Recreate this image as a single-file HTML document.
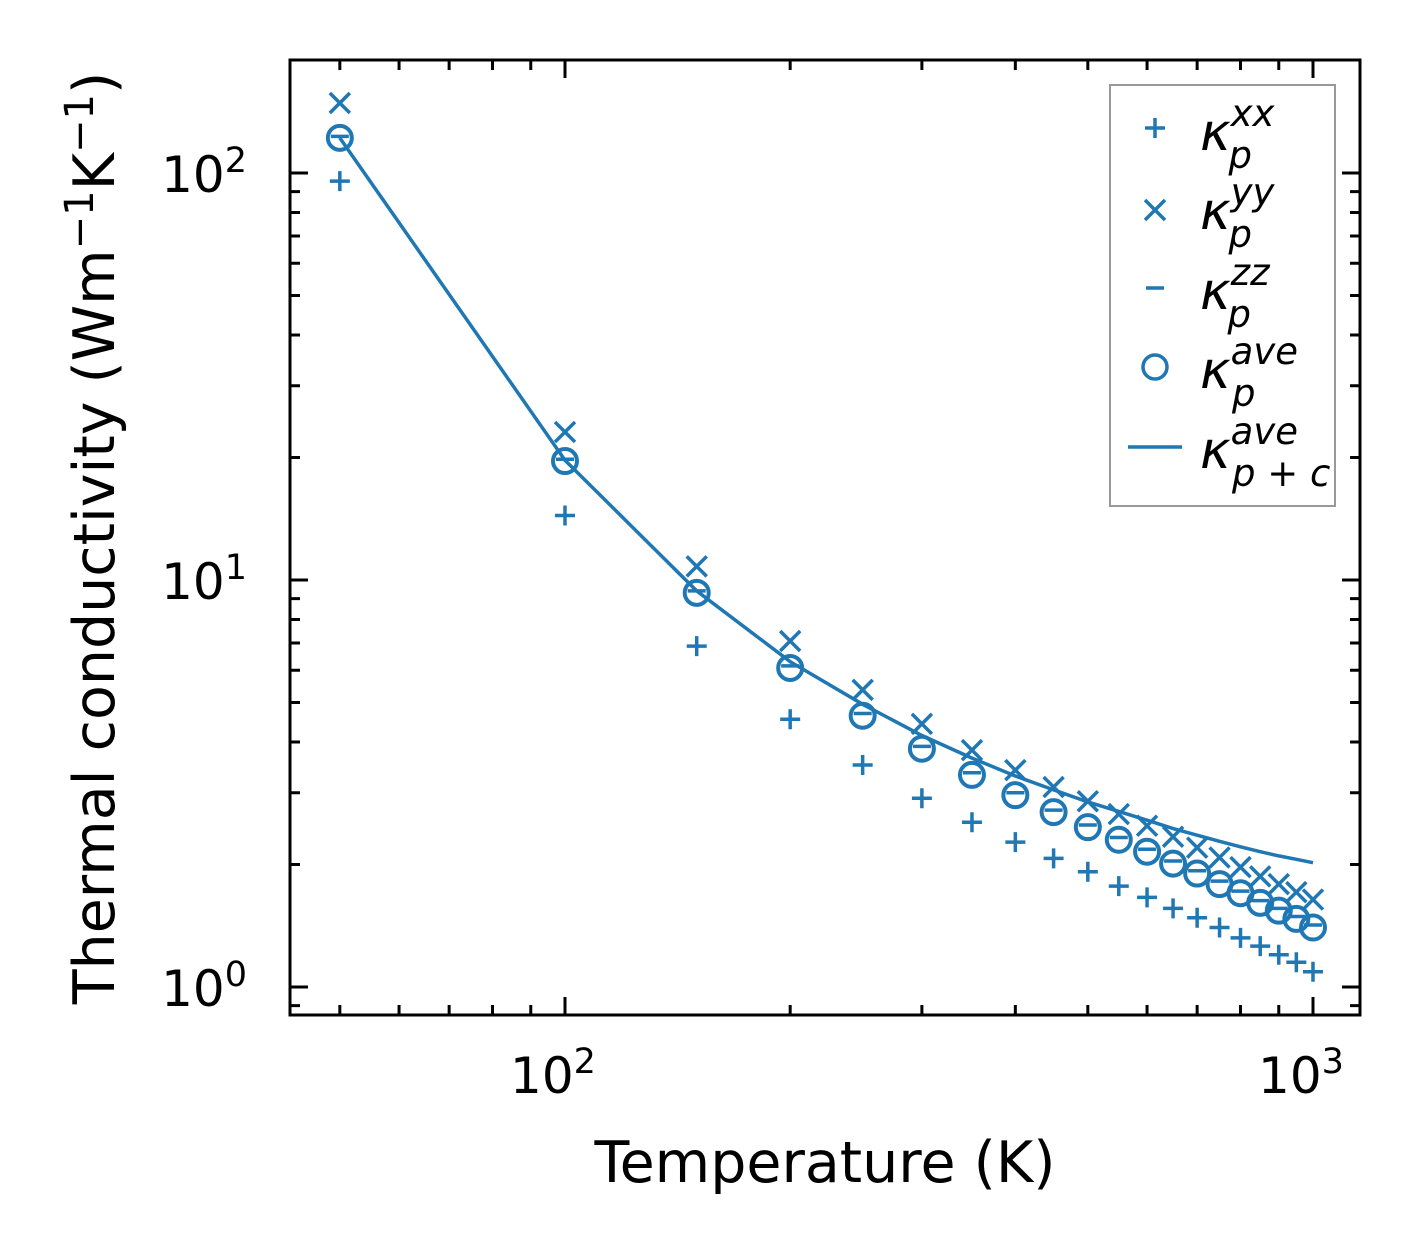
<!DOCTYPE html>
<html><head><meta charset="utf-8"><style>
body{margin:0;background:#fff}
svg text{font-family:"DejaVu Sans","Liberation Sans",sans-serif}
</style></head><body>
<svg id="chart" width="1421" height="1254" viewBox="0 0 1421 1254" xmlns="http://www.w3.org/2000/svg">
<rect width="1421" height="1254" fill="#fff"/>
<g id="marks"></g>
<g id="axes"></g>
<text x="825" y="1182" font-size="57" text-anchor="middle">Temperature (K)</text>
<text transform="translate(114,538) rotate(-90)" font-size="57" text-anchor="middle">Thermal conductivity (Wm<tspan dy="-21" font-size="40">−1</tspan><tspan dy="21">K</tspan><tspan dy="-21" font-size="40">−1</tspan><tspan dy="21">)</tspan></text>
<g>
<rect x="1110" y="85" width="225" height="421" fill="#fff" stroke="#999" stroke-width="2"/>
<g stroke="#1f77b4" stroke-width="3.5" fill="none">
<path d="M1145 128h20M1155 118v20"/>
<path d="M1145 200l20 20M1165 200l-20 20"/>
<path d="M1146 288h18"/>
<circle cx="1155" cy="367" r="12"/>
<path d="M1128 447h54"/>
</g>
<g font-size="52" font-style="italic">
<text x="1200" y="150">κ<tspan font-size="37" dy="-24">xx</tspan><tspan font-size="37" dx="-46" dy="42">p</tspan></text>
<text x="1200" y="229">κ<tspan font-size="37" dy="-24">yy</tspan><tspan font-size="37" dx="-46" dy="42">p</tspan></text>
<text x="1200" y="309">κ<tspan font-size="37" dy="-24">zz</tspan><tspan font-size="37" dx="-42" dy="42">p</tspan></text>
<text x="1200" y="388">κ<tspan font-size="37" dy="-24">ave</tspan><tspan font-size="37" dx="-66" dy="42">p</tspan></text>
<text x="1200" y="468">κ<tspan font-size="37" dy="-24">ave</tspan><tspan font-size="37" dx="-66" dy="42">p + c</tspan></text>
</g>
</g>
</svg>
<script>
const temps=[50,100,150,200,250,300,350,400,450,500,550,600,650,700,750,800,850,900,950,1000];
const kxx=[95.5,14.4,6.88,4.55,3.51,2.91,2.54,2.27,2.07,1.92,1.77,1.66,1.56,1.48,1.40,1.32,1.26,1.20,1.15,1.09];
const kyy=[148.6,23.1,10.8,7.08,5.37,4.43,3.82,3.41,3.10,2.86,2.66,2.49,2.34,2.20,2.08,1.97,1.87,1.79,1.71,1.64];
const kzz=[123,19.8,9.4,6.15,4.7,3.9,3.36,3.0,2.72,2.5,2.33,2.18,2.04,1.93,1.82,1.72,1.63,1.56,1.49,1.42];
const kave=[122,19.6,9.3,6.08,4.64,3.85,3.32,2.96,2.69,2.47,2.30,2.15,2.01,1.90,1.79,1.70,1.61,1.54,1.47,1.40];
const kpc=[122,19.7,9.4,6.3,4.95,4.15,3.65,3.3,3.05,2.85,2.7,2.57,2.45,2.36,2.28,2.21,2.15,2.10,2.06,2.02];
const xMajor=[100,1000], xMajorLabels=["10","10"], xExp=["2","3"];
const yMajor=[1,10,100], yMajorLabels=["10","10","10"], yExp=["0","1","2"];
const X0=290,X1=1360,Y0=60,Y1=1015;
const xs=v=>565+(Math.log10(v)-2)*748;
const ys=v=>987-Math.log10(v)*407;
const NS="http://www.w3.org/2000/svg";
const C="#1f77b4";
function mk(tag,attrs,parent){const e=document.createElementNS(NS,tag);for(const k in attrs)e.setAttribute(k,attrs[k]);parent.appendChild(e);return e;}
const marks=document.getElementById('marks'),axes=document.getElementById('axes');
let d=temps.map((t,i)=>(i?'L':'M')+xs(t).toFixed(1)+' '+ys(kpc[i]).toFixed(1)).join('');
const ln=mk('path',{d:d,stroke:C,'stroke-width':3.5,fill:'none'},marks);


temps.forEach((t,i)=>{
 const x=xs(t);
 let y=ys(kxx[i]);
 const p=mk('path',{d:`M${x-10} ${y}h20M${x} ${y-10}v20`,stroke:C,'stroke-width':3.5,fill:'none'},marks);
 
 
 y=ys(kyy[i]);
 const q=mk('path',{d:`M${x-10} ${y-10}l20 20M${x+10} ${y-10}l-20 20`,stroke:C,'stroke-width':3.5,fill:'none'},marks);
 
 
 y=ys(kzz[i]);
 const z=mk('path',{d:`M${x-9} ${y}h18`,stroke:C,'stroke-width':3.5,fill:'none'},marks);
 
 
 y=ys(kave[i]);
 const c=mk('circle',{cx:x,cy:y,r:12,stroke:C,'stroke-width':4,fill:'none'},marks);
 
 
});
let td='';
for(let dec=10;dec<=1000;dec*=10)for(let m=1;m<10;m++){const v=m*dec;const x=xs(v);if(x<X0||x>X1)continue;const L=m==1?18:10;td+=`M${x} ${Y1}v${-L}M${x} ${Y0}v${L}`;}
for(let dec=0.1;dec<=100;dec*=10)for(let m=1;m<10;m++){const v=m*dec;const y=ys(v);if(y<Y0||y>Y1)continue;const L=m==1?18:10;td+=`M${X0} ${y}h${L}M${X1} ${y}h${-L}`;}
const tk=mk('path',{d:td,stroke:'#000','stroke-width':3,fill:'none'},axes);


const fr=mk('rect',{x:X0,y:Y0,width:X1-X0,height:Y1-Y0,fill:'none',stroke:'#000','stroke-width':3},axes);


xMajor.forEach((v,i)=>{
 const t=mk('text',{x:xs(v)-12,y:1093,'font-size':50,'text-anchor':'middle'},axes);
 
 
 t.innerHTML=xMajorLabels[i]+`<tspan dy="-20" font-size="35">${xExp[i]}</tspan>`;
});
yMajor.forEach((v,i)=>{
 const t=mk('text',{x:247,y:ys(v)+19,'font-size':50,'text-anchor':'end'},axes);
 
 
 t.innerHTML=yMajorLabels[i]+`<tspan dy="-20" font-size="35">${yExp[i]}</tspan>`;
});
</script>
</body></html>
